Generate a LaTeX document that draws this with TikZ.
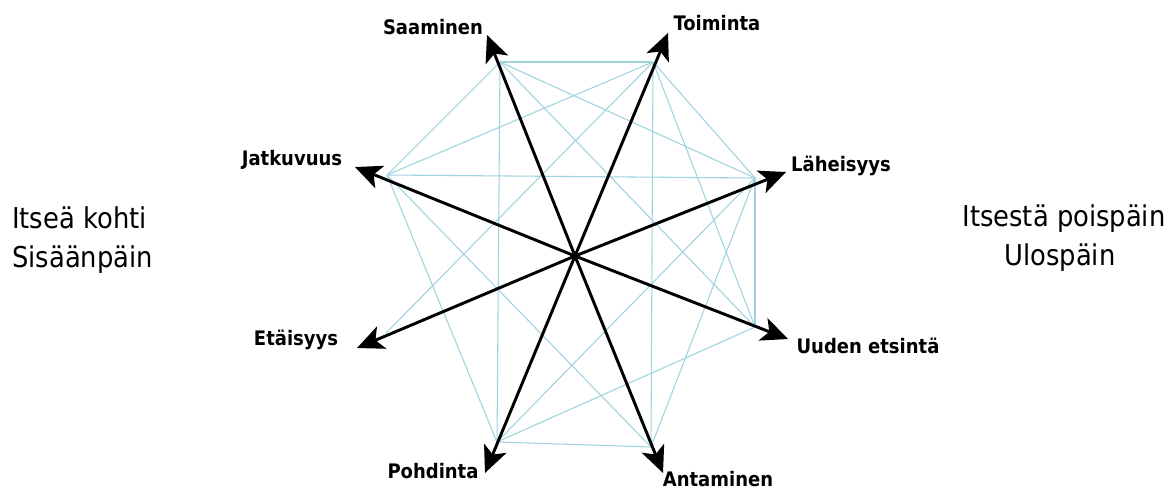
\documentclass[tikz,border=0pt]{standalone}
\usepackage{fontspec}
\setmainfont{DejaVu Sans Condensed}
\usepackage{xcolor}
\usepackage{tikz}
\usetikzlibrary{arrows.meta}
\definecolor{ink}{HTML}{000000}
\definecolor{web}{HTML}{9FD3E0}

\tikzset{
  webline/.style={draw=web, line width=0.8pt},
  spoke/.style={draw=ink, line width=2.2pt, -{Stealth[length=20pt,width=18pt,inset=5pt]}},
  pole/.style={text=ink, inner sep=0pt, font=\bfseries\fontsize{15}{18}\selectfont},
  side/.style={text=ink, inner sep=0pt, font=\fontsize{21.5}{26}\selectfont}
}

\begin{document}
\begin{tikzpicture}[x=0.75pt,y=-0.75pt]
\fill[white] (0,0) rectangle (1174,490);
\useasboundingbox (0,0) rectangle (1174,490);

% corners of the web
\coordinate (vS) at (500,62);
\coordinate (vT) at (653,62);
\coordinate (vL) at (755,178);
\coordinate (vU) at (755,327);
\coordinate (vA) at (651,447);
\coordinate (vP) at (497,442);
\coordinate (vE) at (386,333);
\coordinate (vJ) at (387,175);

\foreach \a/\b in {vS/vT,vS/vL,vS/vU,vS/vP,vS/vJ,
                   vT/vL,vT/vU,vT/vA,vT/vE,vT/vJ,
                   vL/vU,vL/vA,vL/vP,vL/vJ,
                   vU/vP,vA/vP,vA/vJ,vP/vJ}
  \draw[webline] (\a) -- (\b);

% arrow tips
\coordinate (mid) at (575,256);
\coordinate (tS) at (487,35);
\coordinate (tT) at (668,33);
\coordinate (tL) at (786,172);
\coordinate (tU) at (788,339);
\coordinate (tA) at (663,473);
\coordinate (tP) at (485,473);
\coordinate (tE) at (357,348);
\coordinate (tJ) at (355,167);

\foreach \t in {tS,tT,tL,tU,tA,tP,tE,tJ}
  \draw[spoke] (mid) -- (\t);

\node[pole] (saaminen) at (433,27) {Saaminen};
\node[pole] (toiminta) at (717,23) {Toiminta};
\node[pole] (laheisyys) at (841,166) {Läheisyys};
\node[pole] (uuden) at (868,346) {Uuden etsintä};
\node[pole] (antaminen) at (718,479) {Antaminen};
\node[pole] (pohdinta) at (433,471) {Pohdinta};
\node[pole] (etaisyys) at (296,340) {Etäisyys};
\node[pole] (jatkuvuus) at (292,160) {Jatkuvuus};

\node[side, anchor=base west] (kohti) at (12,228) {Itseä kohti};
\node[side, anchor=base west] (sisaan) at (12,267) {Sisäänpäin};
\node[side, anchor=base] (poispain) at (1064,226) {Itsestä poispäin};
\node[side, anchor=base] (ulos) at (1060,265) {Ulospäin};
\end{tikzpicture}
\end{document}
